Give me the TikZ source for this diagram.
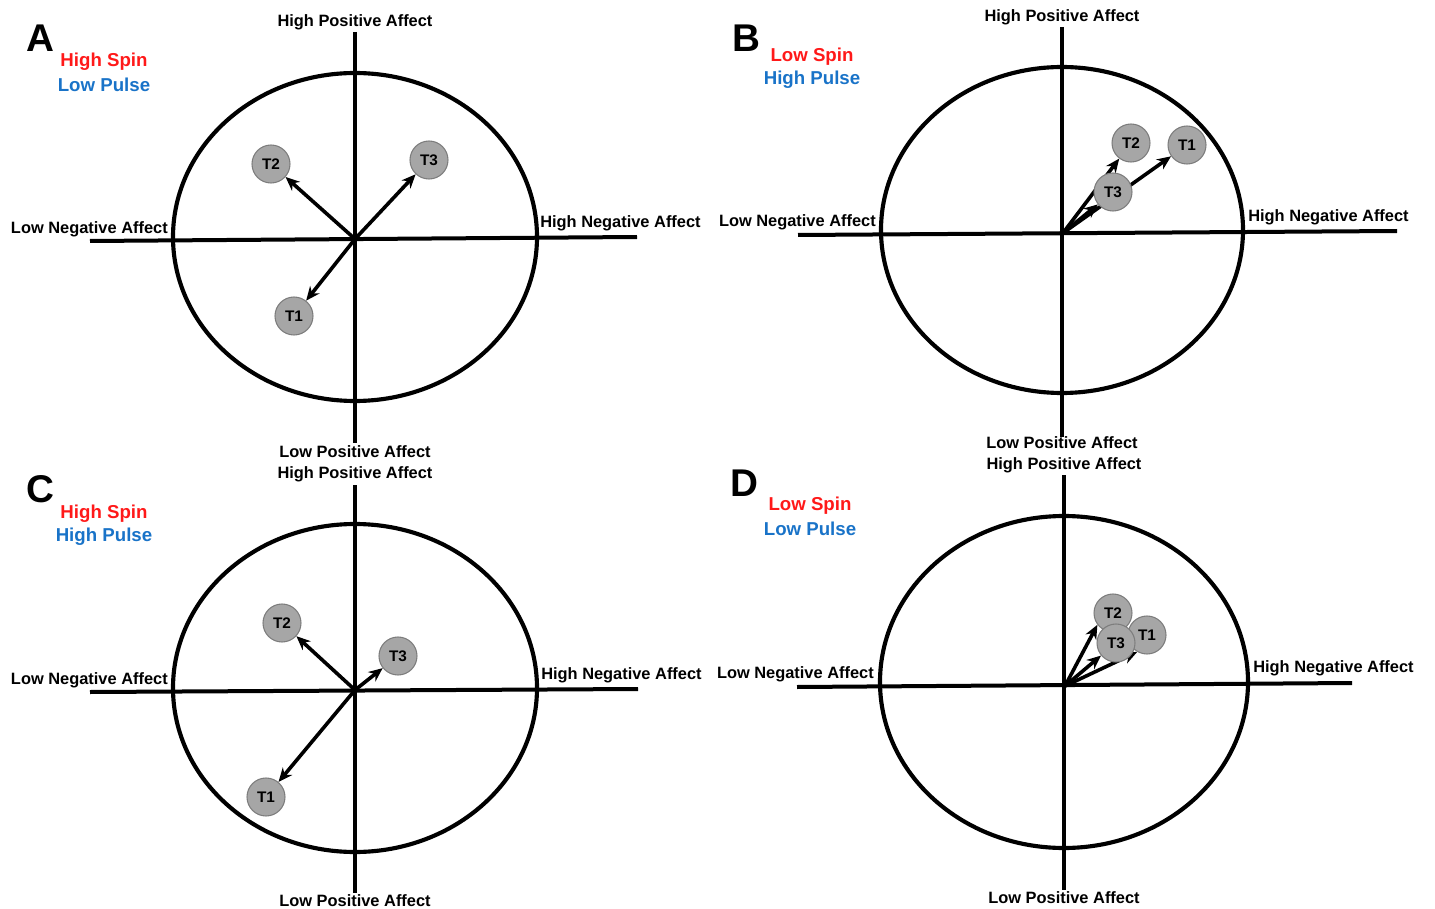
\documentclass[tikz,border=0pt]{standalone}
\usepackage{fontspec}
\setmainfont{Liberation Sans}
\usetikzlibrary{arrows.meta}
\pgfdeclarelayer{bg}
\pgfsetlayers{bg,main}
\definecolor{spinred}{RGB}{255,25,25}
\definecolor{pulseblue}{RGB}{25,115,200}
\definecolor{tfill}{RGB}{166,166,166}
\definecolor{tdraw}{RGB}{125,125,125}
\begin{document}
\begin{tikzpicture}[x=0.75pt,y=-0.75pt,
  axis/.style={line width=3pt},
  ring/.style={line width=3.1pt},
  arr/.style={line width=2.7pt,-{Stealth[length=10.5pt,width=9pt]}},
  tnode/.style={circle,fill=tfill,draw=tdraw,line width=0.8pt,minimum size=28.5pt,inner sep=0pt,font=\bfseries\fontsize{11.5}{12}\selectfont},
  axlab/.style={inner sep=0pt,font=\bfseries\fontsize{12.3}{14}\selectfont},
  letter/.style={inner sep=0pt,font=\bfseries\fontsize{29}{30}\selectfont},
  spin/.style={inner sep=0pt,text=spinred,font=\bfseries\fontsize{14}{16}\selectfont},
  pulse/.style={inner sep=0pt,text=pulseblue,font=\bfseries\fontsize{14}{16}\selectfont}]
\useasboundingbox (0,0) rectangle (1435,909);

% ---------------- Panel A ----------------
\coordinate (oA) at (355,239);
\draw[axis] (355,32) -- (355,443);
\draw[axis] (90,241) -- (637,237);
\draw[ring] (355,237) ellipse [x radius=182, y radius=164];
\node[letter] (lA) at (40,38) {A};
\node[spin] (sA) at (104,62) {High Spin};
\node[pulse] (pA) at (104,85) {Low Pulse};
\node[axlab] (hpA) at (355,22) {High Positive Affect};
\node[axlab,anchor=east] (lnA) at (168,229) {Low Negative Affect};
\node[axlab,anchor=west] (hnA) at (540,223) {High Negative Affect};
\node[axlab] (lpA) at (355,452) {Low Positive Affect};
\node[tnode] (a2) at (271,164) {T2};
\node[tnode] (a3) at (429,160) {T3};
\node[tnode] (a1) at (294,316) {T1};
\begin{pgfonlayer}{bg}
\draw[arr] (oA) -- (a2);
\draw[arr] (oA) -- (a3);
\draw[arr] (oA) -- (a1);
\end{pgfonlayer}

% ---------------- Panel B ----------------
\coordinate (oB) at (1063,233);
\draw[axis] (1062,27) -- (1062,437);
\draw[axis] (798,235) -- (1397,231);
\draw[ring] (1062,230) ellipse [x radius=181, y radius=163];
\node[letter] (lB) at (746,38) {B};
\node[spin] (sB) at (812,57) {Low Spin};
\node[pulse] (pB) at (812,80) {High Pulse};
\node[axlab] (hpB) at (1062,17) {High Positive Affect};
\node[axlab,anchor=east] (lnB) at (876,222) {Low Negative Affect};
\node[axlab,anchor=west] (hnB) at (1248,217) {High Negative Affect};
\node[axlab] (lpB) at (1062,443) {Low Positive Affect};
\node[tnode] (b2) at (1131,143) {T2};
\node[tnode] (b1) at (1187,145) {T1};
\node[tnode] (b3) at (1113,192) {T3};
\begin{pgfonlayer}{bg}
\draw[arr] (oB) -- (b2);
\draw[arr] (oB) -- (b3);
\draw[arr] (oB) -- (b1);
\end{pgfonlayer}

% ---------------- Panel C ----------------
\coordinate (oC) at (355,690);
\draw[axis] (355,485) -- (355,893);
\draw[axis] (90,692) -- (638,689);
\draw[ring] (355,688) ellipse [x radius=182, y radius=164];
\node[letter] (lC) at (40,489) {C};
\node[spin] (sC) at (104,514) {High Spin};
\node[pulse] (pC) at (104,537) {High Pulse};
\node[axlab] (hpC) at (355,474) {High Positive Affect};
\node[axlab,anchor=east] (lnC) at (168,680) {Low Negative Affect};
\node[axlab,anchor=west] (hnC) at (541,675) {High Negative Affect};
\node[axlab] (lpC) at (355,901) {Low Positive Affect};
\node[tnode] (c2) at (282,623) {T2};
\node[tnode] (c3) at (398,656) {T3};
\node[tnode] (c1) at (266,797) {T1};
\begin{pgfonlayer}{bg}
\draw[arr] (oC) -- (c2);
\draw[arr] (oC) -- (c3);
\draw[arr] (oC) -- (c1);
\end{pgfonlayer}

% ---------------- Panel D ----------------
\coordinate (oD) at (1065,686);
\draw[axis] (1064,475) -- (1064,890);
\draw[axis] (797,687) -- (1352,683);
\draw[ring] (1064,682) ellipse [x radius=184, y radius=166];
\node[letter] (lD) at (744,483) {D};
\node[spin] (sD) at (810,506) {Low Spin};
\node[pulse] (pD) at (810,529) {Low Pulse};
\node[axlab] (hpD) at (1064,465) {High Positive Affect};
\node[axlab,anchor=east] (lnD) at (874,674) {Low Negative Affect};
\node[axlab,anchor=west] (hnD) at (1253,668) {High Negative Affect};
\node[axlab] (lpD) at (1064,898) {Low Positive Affect};
\node[tnode] (d1) at (1147,635) {T1};
\node[tnode] (d2) at (1113,613) {T2};
\node[tnode] (d3) at (1116,643) {T3};
\begin{pgfonlayer}{bg}
\draw[arr] (oD) -- (d2.217);
\draw[arr] (oD) -- (d3.220);
\draw[arr] (oD) -- (d1.240);
\end{pgfonlayer}
\end{tikzpicture}
\end{document}
